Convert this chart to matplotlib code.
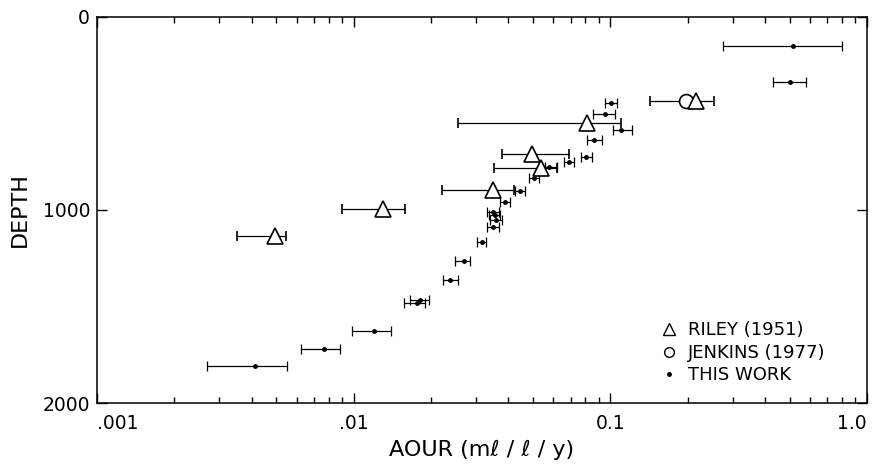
import matplotlib
matplotlib.use('Agg')
import matplotlib.pyplot as plt
from matplotlib.lines import Line2D
from matplotlib.ticker import FixedLocator, FixedFormatter, LogLocator, NullFormatter

plt.rcParams['font.family'] = ['DejaVu Sans']

# Riley (1951): AOUR, depth, lower / upper bounds of the bar
riley_x = [0.00493, 0.0130, 0.0348, 0.0535, 0.0497, 0.0814, 0.216]
riley_y = [1135, 995, 896, 782, 710, 549, 435]
riley_lo = [0.00350, 0.00897, 0.0220, 0.0351, 0.0380, 0.0254, 0.216]
riley_hi = [0.00544, 0.01578, 0.0420, 0.0622, 0.0693, 0.110, 0.254]

# Jenkins (1977)
jenkins_x = [0.198]
jenkins_y = [435]
jenkins_lo = [0.143]
jenkins_hi = [0.198]

# this work
work_x = [0.515, 0.501, 0.101, 0.0957, 0.110, 0.0867, 0.0806, 0.0693, 0.0579,
          0.0506, 0.0443, 0.0390, 0.0348, 0.0354, 0.0357, 0.0348, 0.0315,
          0.0268, 0.0238, 0.0176, 0.0181, 0.01197, 0.00764, 0.00412]
work_y = [150, 337, 446, 503, 585, 637, 725, 751, 777,
          834, 902, 959, 1010, 1026, 1052, 1088, 1166,
          1264, 1363, 1482, 1466, 1627, 1720, 1808]
work_lo = [0.275, 0.431, 0.0957, 0.0859, 0.102, 0.0814, 0.0771, 0.0662, 0.0558,
           0.0480, 0.0427, 0.0370, 0.0330, 0.0336, 0.0339, 0.0330, 0.0301,
           0.0249, 0.0222, 0.0157, 0.0166, 0.00982, 0.00622, 0.00268]
work_hi = [0.799, 0.579, 0.106, 0.1045, 0.121, 0.0931, 0.0851, 0.0724, 0.0622,
           0.0529, 0.0467, 0.0408, 0.0367, 0.0373, 0.0377, 0.0367, 0.0329,
           0.0285, 0.0256, 0.0190, 0.0196, 0.01393, 0.00883, 0.00549]


def xerr(x, lo, hi):
    return [[v - l for v, l in zip(x, lo)], [h - v for v, h in zip(x, hi)]]


fig = plt.figure(figsize=(8.74, 4.66), dpi=100)
ax = fig.add_axes([0.111, 0.135, 0.881, 0.829])

ebar = dict(ecolor='black', elinewidth=0.9, capsize=3.5, capthick=0.9, linestyle='none')
ax.errorbar(work_x, work_y, xerr=xerr(work_x, work_lo, work_hi), fmt='o', ms=2.5,
            mfc='black', mec='black', **ebar)
ax.errorbar(jenkins_x, jenkins_y, xerr=xerr(jenkins_x, jenkins_lo, jenkins_hi), fmt='o',
            ms=10, mfc='white', mec='black', mew=1.2, **ebar)
ax.errorbar(riley_x, riley_y, xerr=xerr(riley_x, riley_lo, riley_hi), fmt='^',
            ms=11, mfc='white', mec='black', mew=1.2, **ebar)

ax.set_xscale('log')
ax.set_xlim(0.001, 1.0)
ax.set_ylim(2000, 0)

ax.xaxis.set_major_locator(FixedLocator([0.001, 0.01, 0.1, 1.0]))
ax.xaxis.set_major_formatter(FixedFormatter(['.001', '.01', '0.1', '1.0']))
ax.xaxis.set_minor_locator(LogLocator(base=10, subs=range(2, 10)))
ax.xaxis.set_minor_formatter(NullFormatter())
ax.yaxis.set_major_locator(FixedLocator([0, 1000, 2000]))
ax.yaxis.set_minor_locator(FixedLocator([]))

ax.tick_params(which='both', direction='in', top=True, right=True, width=1.0,
               labelsize=13.5)
ax.tick_params(which='major', length=7)
ax.tick_params(which='minor', length=4.5)
ax.tick_params(axis='x', pad=8)
ax.tick_params(axis='y', pad=5)
for s in ax.spines.values():
    s.set_linewidth(1.1)

# outer labels sit inside the frame width, as in the original
xlabels = ax.get_xticklabels()
xlabels[0].set_ha('left')
xlabels[-1].set_ha('right')

ax.set_xlabel('AOUR (mℓ / ℓ / y)', fontsize=16, labelpad=5)
ax.set_ylabel('DEPTH', fontsize=16, labelpad=9)

handles = [
    Line2D([], [], marker='^', ms=8, mfc='white', mec='black', mew=1.0, ls='none'),
    Line2D([], [], marker='o', ms=7, mfc='white', mec='black', mew=1.0, ls='none'),
    Line2D([], [], marker='o', ms=2.5, mfc='black', mec='black', ls='none'),
]
ax.legend(handles, ['RILEY (1951)', 'JENKINS (1977)', 'THIS WORK'], frameon=False,
          loc='upper left', bbox_to_anchor=(0.72, 0.235), fontsize=13,
          handlelength=1.0, handletextpad=0.5, labelspacing=0.25, borderpad=0)

fig.savefig('out.png', dpi=100)
